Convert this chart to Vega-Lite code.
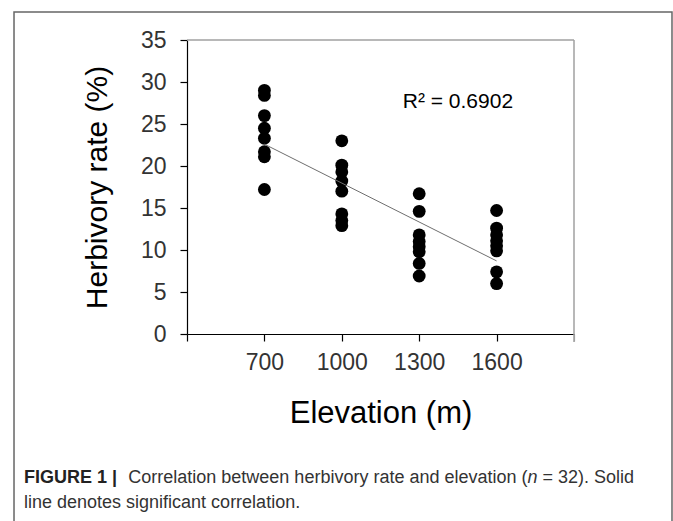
{
  "$schema": "https://vega.github.io/schema/vega-lite/v6.json",
  "width": 387,
  "height": 294,
  "autosize": "none",
  "padding": {"left": 187, "top": 40, "right": 99, "bottom": 187},
  "background": "white",
  "config": {
    "view": {"stroke": null},
    "font": "Liberation Sans",
    "axis": {"grid": false}
  },
  "data": {"values": [{"note": "annotation"}]},
  "datasets": {
    "points": [
      {"elevation": 700, "rate": 29.0}, {"elevation": 700, "rate": 28.4}, {"elevation": 700, "rate": 26.0}, {"elevation": 700, "rate": 24.5},
      {"elevation": 700, "rate": 23.3}, {"elevation": 700, "rate": 21.7}, {"elevation": 700, "rate": 21.1}, {"elevation": 700, "rate": 17.2},
      {"elevation": 1000, "rate": 23.0}, {"elevation": 1000, "rate": 20.1}, {"elevation": 1000, "rate": 19.3}, {"elevation": 1000, "rate": 18.2},
      {"elevation": 1000, "rate": 17.0}, {"elevation": 1000, "rate": 14.3}, {"elevation": 1000, "rate": 13.5}, {"elevation": 1000, "rate": 12.9},
      {"elevation": 1300, "rate": 16.7}, {"elevation": 1300, "rate": 14.6}, {"elevation": 1300, "rate": 11.8}, {"elevation": 1300, "rate": 11.0},
      {"elevation": 1300, "rate": 10.4}, {"elevation": 1300, "rate": 9.8}, {"elevation": 1300, "rate": 8.4}, {"elevation": 1300, "rate": 6.9},
      {"elevation": 1600, "rate": 14.7}, {"elevation": 1600, "rate": 12.6}, {"elevation": 1600, "rate": 11.8}, {"elevation": 1600, "rate": 11.1},
      {"elevation": 1600, "rate": 10.5}, {"elevation": 1600, "rate": 9.9}, {"elevation": 1600, "rate": 7.4}, {"elevation": 1600, "rate": 6.0}
    ],
    "fit": [
      {"elevation": 700, "rate": 22.6},
      {"elevation": 1600, "rate": 8.7}
    ]
  },
  "layer": [
    {
      "mark": {"type": "rect", "fillOpacity": 0, "stroke": "#666666", "strokeWidth": 1.5},
      "encoding": {
        "x": {"datum": -270.5, "type": "quantitative"},
        "x2": {"datum": 2279.8},
        "y": {"datum": 38.33, "type": "quantitative"},
        "y2": {"datum": -23.5}
      }
    },
    {
      "mark": {"type": "rule", "stroke": "#a0a0a0", "strokeWidth": 1.5},
      "encoding": {
        "x": {"datum": 400, "type": "quantitative"},
        "x2": {"datum": 1900},
        "y": {"datum": 35, "type": "quantitative"}
      }
    },
    {
      "mark": {"type": "rule", "stroke": "#a0a0a0", "strokeWidth": 1.5},
      "encoding": {
        "x": {"datum": 1900, "type": "quantitative"},
        "y": {"datum": -0.95, "type": "quantitative"},
        "y2": {"datum": 35}
      }
    },
    {
      "data": {"name": "points"},
      "mark": {"type": "circle", "size": 165, "color": "black", "opacity": 1},
      "encoding": {
        "x": {
          "field": "elevation", "type": "quantitative",
          "scale": {"domain": [400, 1900], "nice": false, "zero": false},
          "axis": {
            "values": [400, 700, 1000, 1300, 1600, 1900],
            "labelExpr": "datum.value == 400 || datum.value == 1900 ? '' : datum.label",
            "format": "d",
            "title": "Elevation (m)",
            "titleFontSize": 31,
            "titleFontWeight": "normal",
            "titleColor": "black",
            "titleY": 88,
            "titleBaseline": "alphabetic",
            "labelFontSize": 23,
            "labelColor": "#333333",
            "labelPadding": 10,
            "tickSize": 7,
            "tickColor": {"condition": {"test": "datum.value == 1900", "value": "#a0a0a0"}, "value": "black"},
            "domainColor": "black",
            "domainWidth": 1.2,
            "tickWidth": 1.2
          }
        },
        "y": {
          "field": "rate", "type": "quantitative",
          "scale": {"domain": [0, 35], "nice": false},
          "axis": {
            "values": [0, 5, 10, 15, 20, 25, 30, 35],
            "title": "Herbivory rate (%)",
            "titleFontSize": 30,
            "titleFontWeight": "normal",
            "titleColor": "black",
            "titleX": -75,
            "titleBaseline": "bottom",
            "labelFontSize": 23,
            "labelColor": "#333333",
            "labelPadding": 14,
            "tickSize": 7,
            "tickColor": "black",
            "domainColor": "black",
            "domainWidth": 1.2,
            "tickWidth": 1.2
          }
        }
      }
    },
    {
      "data": {"name": "fit"},
      "mark": {"type": "line", "color": "#6e6e6e", "strokeWidth": 1},
      "encoding": {
        "x": {"field": "elevation", "type": "quantitative"},
        "y": {"field": "rate", "type": "quantitative"}
      }
    },
    {
      "mark": {"type": "text", "text": "R² = 0.6902", "fontSize": 21, "align": "center", "baseline": "alphabetic", "color": "black"},
      "encoding": {
        "x": {"datum": 1450, "type": "quantitative"},
        "y": {"datum": 26.9, "type": "quantitative"}
      }
    },
    {
      "mark": {"type": "text", "text": "FIGURE 1 |", "fontSize": 18, "fontWeight": "bold", "align": "left", "baseline": "alphabetic", "color": "#222222"},
      "encoding": {
        "x": {"datum": -231.8, "type": "quantitative"},
        "y": {"datum": -17.74, "type": "quantitative"}
      }
    },
    {
      "mark": {"type": "text", "text": "Correlation between herbivory rate and elevation (", "fontSize": 18, "align": "right", "baseline": "alphabetic", "color": "#333333"},
      "encoding": {
        "x": {"datum": 1719.8, "type": "quantitative"},
        "y": {"datum": -17.74, "type": "quantitative"}
      }
    },
    {
      "mark": {"type": "text", "text": "n", "fontSize": 18, "fontStyle": "italic", "align": "right", "baseline": "alphabetic", "color": "#333333"},
      "encoding": {
        "x": {"datum": 1758.5, "type": "quantitative"},
        "y": {"datum": -17.74, "type": "quantitative"}
      }
    },
    {
      "mark": {"type": "text", "text": "= 32). Solid", "fontSize": 18, "align": "right", "baseline": "alphabetic", "color": "#333333"},
      "encoding": {
        "x": {"datum": 2132.6, "type": "quantitative"},
        "y": {"datum": -17.74, "type": "quantitative"}
      }
    },
    {
      "mark": {"type": "text", "text": "line denotes significant correlation.", "fontSize": 18, "align": "left", "baseline": "alphabetic", "color": "#333333"},
      "encoding": {
        "x": {"datum": -231.8, "type": "quantitative"},
        "y": {"datum": -20.71, "type": "quantitative"}
      }
    }
  ]
}
